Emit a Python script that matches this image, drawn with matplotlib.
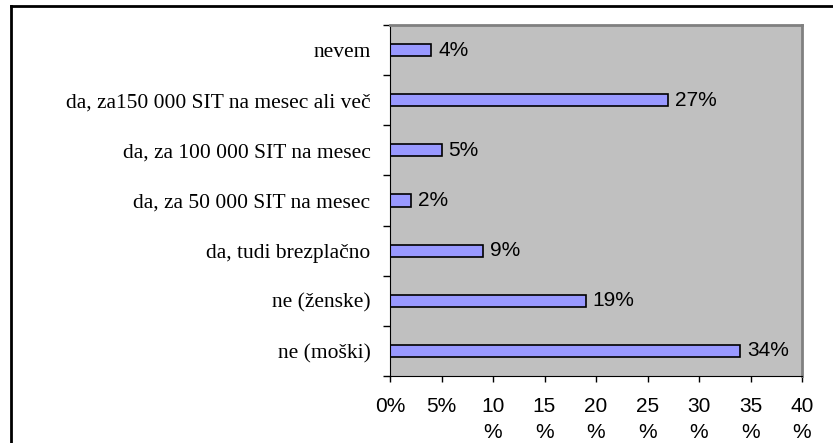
import matplotlib
matplotlib.use("Agg")
import matplotlib.pyplot as plt
from matplotlib.lines import Line2D
import numpy as np

# categories listed bottom to top, as drawn
categories = [
    "ne (moški)",
    "ne (ženske)",
    "da, tudi brezplačno",
    "da, za 50 000 SIT na mesec",
    "da, za 100 000 SIT na mesec",
    "da, za150 000 SIT na mesec ali več",
    "nevem",
]
values = [34, 19, 9, 2, 5, 27, 4]
x_ticks = [0, 5, 10, 15, 20, 25, 30, 35, 40]
x_tick_labels = ["0%", "5%", "10\n%", "15\n%", "20\n%", "25\n%", "30\n%", "35\n%", "40\n%"]

fig = plt.figure(figsize=(8.33, 4.43), dpi=100)
ax = fig.add_axes([390 / 833, 1 - 376 / 443, 412 / 833, 351 / 443])

ax.set_facecolor("#C0C0C0")
ypos = np.arange(len(categories))
ax.barh(ypos, values, height=0.24, color="#9999FF", edgecolor="black", linewidth=1.2)

for y, v in zip(ypos, values):
    ax.annotate(f"{v}%", (v, y), xytext=(5, 0), textcoords="offset points",
                va="center", ha="left", fontsize=15, family="Liberation Sans")

ax.set_xlim(0, 40)
ax.set_ylim(-0.5, len(categories) - 0.5)

ax.set_xticks(x_ticks)
ax.set_xticklabels(x_tick_labels, fontsize=15, family="Liberation Sans", linespacing=1.5)
ax.tick_params(axis="x", length=4, width=1, direction="out", pad=11)

ax.set_yticks(ypos)
ax.set_yticklabels(categories, fontsize=15.5, family="Liberation Serif")
ax.set_yticks(np.arange(-0.5, len(categories)), minor=True)
ax.tick_params(axis="y", which="major", length=0, pad=14)
ax.tick_params(axis="y", which="minor", length=5, width=1, direction="out")

for side in ["top", "right"]:
    ax.spines[side].set_color("#808080")
    ax.spines[side].set_linewidth(2)
ax.spines["left"].set_color("black")
ax.spines["bottom"].set_color("black")

# outer chart frame (only left and top edges visible in the crop)
fig.add_artist(Line2D([10.5 / 833, 10.5 / 833], [0, 1 - 6 / 443], color="black", linewidth=2))
fig.add_artist(Line2D([10.5 / 833, 1], [1 - 6 / 443, 1 - 6 / 443], color="black", linewidth=2))

fig.savefig("out.png", dpi=100)
